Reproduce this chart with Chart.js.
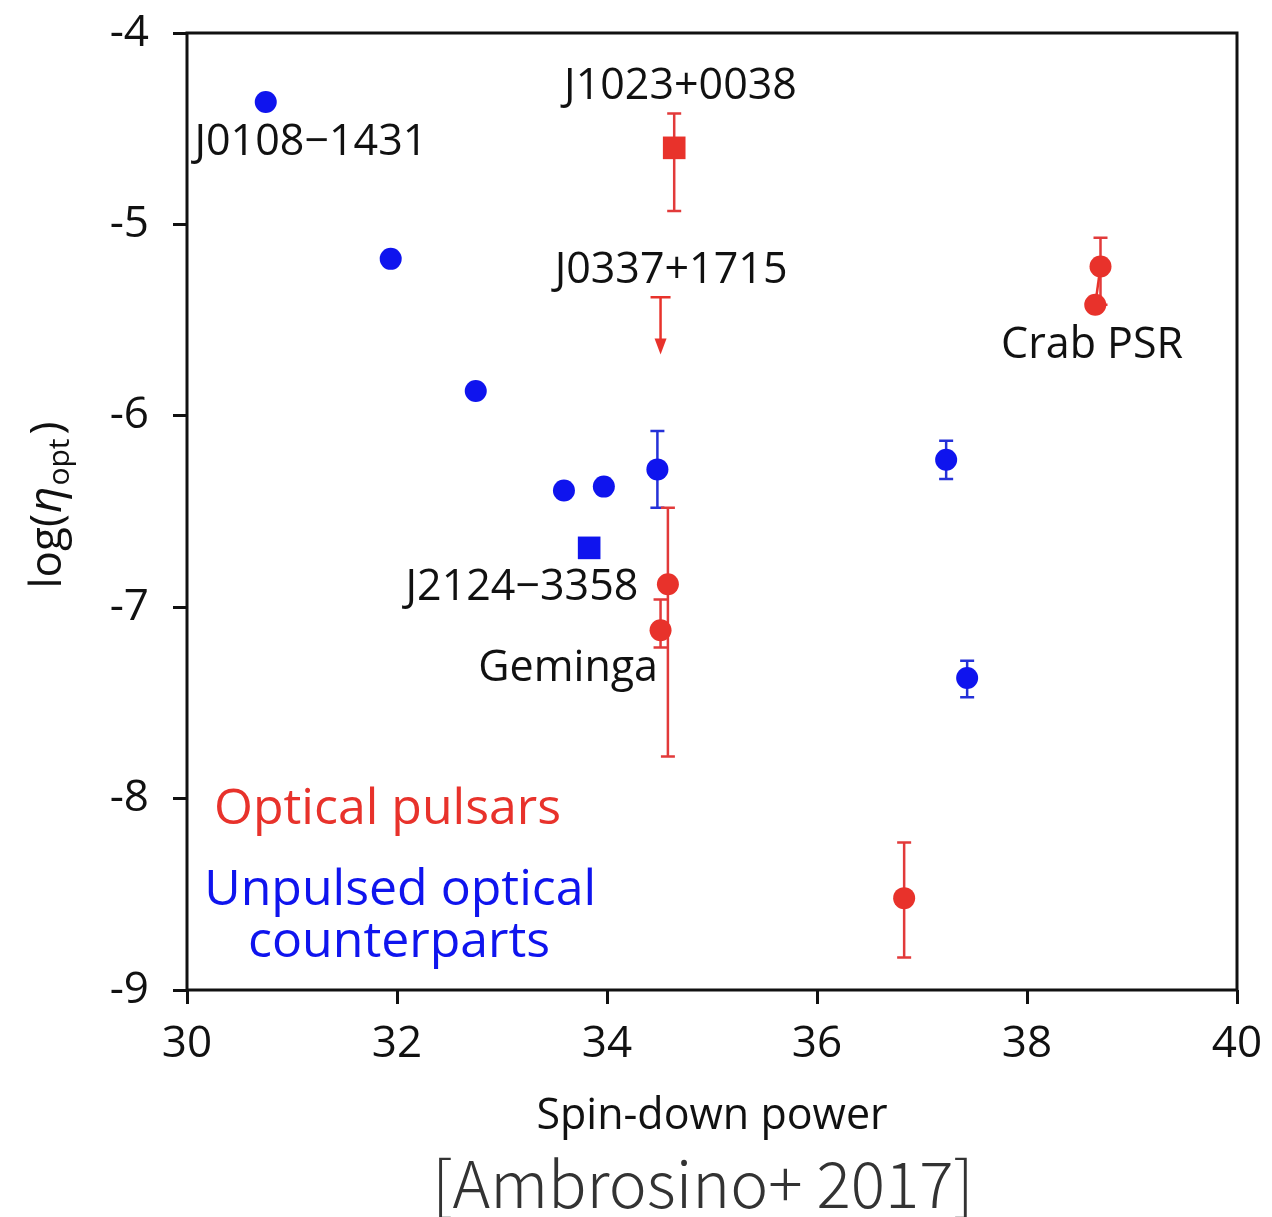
<!DOCTYPE html>
<html>
<head>
<meta charset="utf-8">
<script src="https://cdn.jsdelivr.net/npm/chart.js@4/dist/chart.umd.min.js"></script>
<style>
  html, body { margin: 0; padding: 0; background: #fff; }
  #wrap { width: 1272px; height: 1217px; position: relative; }
</style>
</head>
<body>
<div id="wrap"><canvas id="chart" width="1272" height="1217"></canvas></div>
<script>
// Unpulsed optical counterparts (blue)
var blueX = [30.75, 31.94, 32.75, 33.59, 33.97, 34.48, 37.23, 37.43];
var blueY = [-4.36, -5.18, -5.87, -6.39, -6.37, -6.28, -6.23, -7.37];
var blueErrUp = [0, 0, 0, 0, 0, 0.20, 0.10, 0.09];
var blueErrDown = [0, 0, 0, 0, 0, 0.20, 0.10, 0.10];
var blueSqX = [33.83];
var blueSqY = [-6.69];

// Optical pulsars (red)
var redX = [34.58, 34.51, 38.70, 38.65, 36.83];
var redY = [-6.88, -7.12, -5.22, -5.42, -8.52];
var redErrUp = [0.40, 0.16, 0.15, 0, 0.29];
var redErrDown = [0.90, 0.09, 0.20, 0, 0.31];
var redSqX = [34.64];
var redSqY = [-4.60];
var redSqErrUp = [0.18];
var redSqErrDown = [0.33];

// J0337+1715 upper limit
var limitX = [34.51];
var limitY = [-5.38];
var limitLen = [0.30];

var xTicks = [30, 32, 34, 36, 38, 40];
var yTicks = [-9, -8, -7, -6, -5, -4];

var labels = [
  { text: 'J0108\u22121431', x: 31.18, y: -4.575, color: '#111' },
  { text: 'J1023+0038', x: 34.70, y: -4.28, color: '#111' },
  { text: 'J0337+1715', x: 34.61, y: -5.24, color: '#111' },
  { text: 'Crab PSR', x: 38.62, y: -5.635, color: '#111' },
  { text: 'J2124\u22123358', x: 33.19, y: -6.90, color: '#111' },
  { text: 'Geminga', x: 33.63, y: -7.32, color: '#111' }
];

var FONT = '"Open Sans", "Noto Sans", sans-serif';
var BLUE = '#0f14ee';
var RED = '#e8322b';

function pts(xs, ys, up, down) {
  return xs.map(function(x, i) {
    return { x: x, y: ys[i], up: up ? up[i] : 0, down: down ? down[i] : 0 };
  });
}

// Error bars, upper limit arrow, annotations and frame
var extras = {
  id: 'extras',
  beforeDatasetsDraw: function(chart) {
    var ctx = chart.ctx;
    var xs = chart.scales.x, ys = chart.scales.y;
    ctx.save();
    chart.data.datasets.forEach(function(ds) {
      ctx.strokeStyle = ds.errColor;
      ctx.lineWidth = 2.5;
      ds.data.forEach(function(p) {
        if (!p.up && !p.down) return;
        var px = xs.getPixelForValue(p.x);
        var y1 = ys.getPixelForValue(p.y + p.up);
        var y2 = ys.getPixelForValue(p.y - p.down);
        ctx.beginPath();
        ctx.moveTo(px, y1); ctx.lineTo(px, y2);
        if (p.up) { ctx.moveTo(px - 7, y1); ctx.lineTo(px + 7, y1); }
        if (p.down) { ctx.moveTo(px - 7, y2); ctx.lineTo(px + 7, y2); }
        ctx.stroke();
      });
    });
    // crab connector
    ctx.strokeStyle = RED;
    ctx.beginPath();
    ctx.moveTo(xs.getPixelForValue(redX[2]), ys.getPixelForValue(redY[2]));
    ctx.lineTo(xs.getPixelForValue(redX[3]), ys.getPixelForValue(redY[3]));
    ctx.stroke();
    // upper limit
    limitX.forEach(function(lx, i) {
      var px = xs.getPixelForValue(lx);
      var y1 = ys.getPixelForValue(limitY[i]);
      var y2 = ys.getPixelForValue(limitY[i] - limitLen[i]);
      ctx.strokeStyle = RED;
      ctx.fillStyle = RED;
      ctx.lineWidth = 2.5;
      ctx.beginPath();
      ctx.moveTo(px - 10, y1); ctx.lineTo(px + 10, y1);
      ctx.moveTo(px, y1); ctx.lineTo(px, y2 - 12);
      ctx.stroke();
      ctx.beginPath();
      ctx.moveTo(px - 6, y2 - 16); ctx.lineTo(px + 6, y2 - 16); ctx.lineTo(px, y2);
      ctx.closePath();
      ctx.fill();
    });
    ctx.restore();
  },
  afterDraw: function(chart) {
    var ctx = chart.ctx;
    var xs = chart.scales.x, ys = chart.scales.y;
    var a = chart.chartArea;
    ctx.save();
    // frame
    ctx.strokeStyle = '#111';
    ctx.lineWidth = 3;
    ctx.strokeRect(a.left, a.top, a.right - a.left, a.bottom - a.top);

    ctx.textAlign = 'center';
    ctx.textBaseline = 'middle';
    ctx.font = '43px ' + FONT;
    labels.forEach(function(l) {
      ctx.fillStyle = l.color;
      ctx.fillText(l.text, xs.getPixelForValue(l.x), ys.getPixelForValue(l.y));
    });

    // legend text
    ctx.font = '50px ' + FONT;
    ctx.fillStyle = RED;
    ctx.fillText('Optical pulsars', xs.getPixelForValue(31.91), ys.getPixelForValue(-8.06));
    ctx.fillStyle = BLUE;
    ctx.fillText('Unpulsed optical', xs.getPixelForValue(32.03), ys.getPixelForValue(-8.48));
    ctx.fillText('counterparts', xs.getPixelForValue(32.02), ys.getPixelForValue(-8.755));

    // axis titles
    ctx.fillStyle = '#111';
    ctx.font = '43px ' + FONT;
    ctx.fillText('Spin-down power', (a.left + a.right) / 2, 1117);

    ctx.save();
    ctx.translate(48, 505);
    ctx.rotate(-Math.PI / 2);
    ctx.textAlign = 'left';
    var t1 = 'log(';
    ctx.font = '44px ' + FONT;
    var w1 = ctx.measureText(t1).width;
    ctx.font = 'italic 46px ' + FONT;
    var w2 = ctx.measureText('\u03b7').width;
    ctx.font = '30px ' + FONT;
    var w3 = ctx.measureText('opt').width;
    ctx.font = '44px ' + FONT;
    var w4 = ctx.measureText(')').width;
    var x0 = -(w1 + w2 + w3 + w4 + 6) / 2;
    ctx.fillText(t1, x0, 0);
    ctx.font = 'italic 46px ' + FONT;
    ctx.fillText('\u03b7', x0 + w1 + 1, 0);
    ctx.font = '30px ' + FONT;
    ctx.fillText('opt', x0 + w1 + w2 + 2, 12);
    ctx.font = '44px ' + FONT;
    ctx.fillText(')', x0 + w1 + w2 + w3 + 6, 0);
    ctx.restore();

    // citation
    ctx.fillStyle = '#333';
    ctx.font = '300 64px "Noto Sans CJK JP", "Lato", sans-serif';
    ctx.fillText('[Ambrosino+ 2017]', 703, 1184);
    ctx.restore();
  }
};

var tickFont = { family: FONT, size: 44 };

function noPad(s) {
  s.paddingTop = 0; s.paddingBottom = 0; s.paddingLeft = 0; s.paddingRight = 0;
}

new Chart(document.getElementById('chart').getContext('2d'), {
  type: 'scatter',
  data: {
    datasets: [
      {
        label: 'Unpulsed optical counterparts',
        data: pts(blueX, blueY, blueErrUp, blueErrDown),
        backgroundColor: BLUE, borderColor: BLUE, errColor: '#2431d8',
        pointRadius: 11, pointStyle: 'circle', borderWidth: 0
      },
      {
        label: 'J2124-3358',
        data: pts(blueSqX, blueSqY),
        backgroundColor: BLUE, borderColor: BLUE, errColor: BLUE,
        pointRadius: 16, pointStyle: 'rect', borderWidth: 0
      },
      {
        label: 'Optical pulsars',
        data: pts(redX, redY, redErrUp, redErrDown),
        backgroundColor: RED, borderColor: RED, errColor: '#e23a3a',
        pointRadius: 11, pointStyle: 'circle', borderWidth: 0
      },
      {
        label: 'J1023+0038',
        data: pts(redSqX, redSqY, redSqErrUp, redSqErrDown),
        backgroundColor: RED, borderColor: RED, errColor: '#e23a3a',
        pointRadius: 16, pointStyle: 'rect', borderWidth: 0
      }
    ]
  },
  options: {
    responsive: false,
    animation: false,
    layout: { padding: { top: 33, right: 35, left: 0, bottom: 0 } },
    plugins: { legend: { display: false }, tooltip: { enabled: false } },
    scales: {
      x: {
        type: 'linear', min: 30, max: 40,
        afterBuildTicks: function(s) { s.ticks = xTicks.map(function(v) { return { value: v }; }); },
        afterFit: function(s) { s.height = 227; noPad(s); },
        grid: { drawOnChartArea: false, drawTicks: true, tickLength: 14, color: '#111', lineWidth: 3 },
        border: { display: false },
        ticks: { color: '#111', font: tickFont, padding: 14, maxRotation: 0 }
      },
      y: {
        type: 'linear', min: -9, max: -4,
        afterBuildTicks: function(s) { s.ticks = yTicks.map(function(v) { return { value: v }; }); },
        afterFit: function(s) { s.width = 187; noPad(s); },
        grid: { drawOnChartArea: false, drawTicks: true, tickLength: 14, color: '#111', lineWidth: 3 },
        border: { display: false },
        ticks: { color: '#111', font: tickFont, padding: 24 }
      }
    }
  },
  plugins: [extras]
});
</script>
</body>
</html>
